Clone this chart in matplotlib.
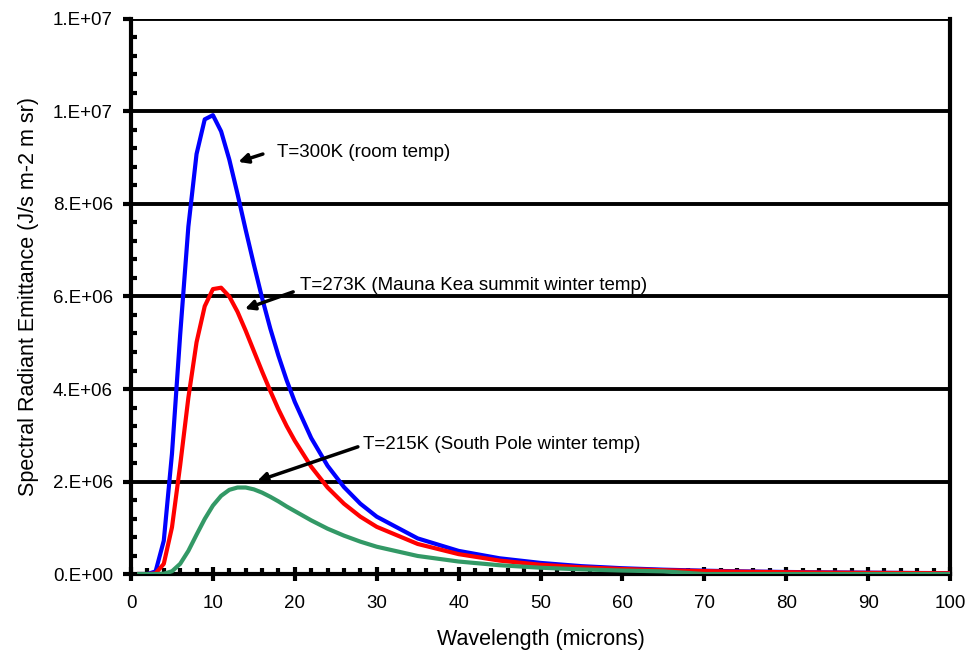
import numpy as np
import matplotlib.pyplot as plt
from matplotlib.ticker import MultipleLocator, FuncFormatter

plt.rcParams['font.family'] = ['Liberation Sans', 'DejaVu Sans']

# wavelength in microns
wavelength = [1, 2, 3, 4, 5, 6, 7, 8, 9, 10, 11, 12, 13, 14, 15, 16, 17, 18, 19, 20,
              22, 24, 26, 28, 30, 35, 40, 45, 50, 55, 60, 65, 70, 75, 80, 85, 90, 95, 100]

# spectral radiant emittance (J/s m-2 m sr)
t300 = [0, 0, 5.6e4, 7.2e5, 2.60e6, 5.17e6, 7.51e6, 9.08e6, 9.83e6, 9.92e6,
        9.57e6, 8.96e6, 8.22e6, 7.44e6, 6.69e6, 5.97e6, 5.31e6, 4.72e6, 4.19e6, 3.72e6,
        2.94e6, 2.34e6, 1.88e6, 1.52e6, 1.24e6, 7.7e5, 5.0e5, 3.4e5, 2.4e5, 1.7e5,
        1.25e5, 9.4e4, 7.2e4, 5.6e4, 4.4e4, 3.5e4, 2.9e4, 2.3e4, 1.9e4]
t273 = [0, 0, 1.2e4, 2.2e5, 1.01e6, 2.35e6, 3.81e6, 5.01e6, 5.79e6, 6.16e6,
        6.19e6, 6.00e6, 5.67e6, 5.26e6, 4.82e6, 4.38e6, 3.96e6, 3.56e6, 3.20e6, 2.88e6,
        2.32e6, 1.87e6, 1.52e6, 1.24e6, 1.02e6, 6.5e5, 4.3e5, 2.9e5, 2.0e5, 1.45e5,
        1.09e5, 8.2e4, 6.3e4, 5.0e4, 3.9e4, 3.1e4, 2.5e4, 2.1e4, 1.7e4]
t215 = [0, 0, 0, 6e3, 5.9e4, 2.2e5, 5.0e5, 8.5e5, 1.19e6, 1.48e6,
        1.69e6, 1.82e6, 1.87e6, 1.87e6, 1.83e6, 1.76e6, 1.67e6, 1.57e6, 1.46e6, 1.36e6,
        1.16e6, 9.8e5, 8.3e5, 7.0e5, 5.9e5, 3.9e5, 2.7e5, 1.9e5, 1.36e5, 1.0e5,
        7.5e4, 5.7e4, 0, 0, 0, 0, 0, 0, 0]

fig = plt.figure(figsize=(9.8, 6.5), dpi=100)
ax = fig.add_axes([0.1337, 0.1169, 0.8357, 0.8539])

# horizontal grid lines
for yv in np.arange(2e6, 1.21e7, 2e6):
    ax.axhline(yv, color='black', lw=2.8, zorder=1)

ax.plot(wavelength, t300, color='#0000FF', lw=3, zorder=3)
ax.plot(wavelength, t273, color='#FF0000', lw=3, zorder=3)
ax.plot(wavelength, t215, color='#339966', lw=3, zorder=4)

ax.set_xlim(0, 100)
ax.set_ylim(0, 1.2e7)

ax.xaxis.set_major_locator(MultipleLocator(10))
ax.xaxis.set_minor_locator(MultipleLocator(2))
ax.yaxis.set_major_locator(MultipleLocator(2e6))
ax.yaxis.set_minor_locator(MultipleLocator(4e5))


def excel_fmt(v, pos):
    m, e = f"{v:.0E}".split('E')
    return f"{m}.E{e}"


ax.yaxis.set_major_formatter(FuncFormatter(excel_fmt))

ax.tick_params(axis='x', which='major', direction='inout', length=10, width=3, labelsize=13.5, pad=10)
ax.tick_params(axis='x', which='minor', direction='in', length=4, width=3)
ax.tick_params(axis='y', which='major', direction='out', length=6, width=3, labelsize=13.5, pad=7)
ax.tick_params(axis='y', which='minor', direction='in', length=4, width=3)

for s in ['left', 'bottom', 'right']:
    ax.spines[s].set_linewidth(3)
    ax.spines[s].set_zorder(2)
ax.spines['top'].set_visible(False)

ax.set_xlabel('Wavelength (microns)', fontsize=15.5, labelpad=12)
ax.set_ylabel('Spectral Radiant Emittance (J/s m-2 m sr)', fontsize=15.5, labelpad=10)

arrow = dict(arrowstyle='-|>', lw=2.5, color='black', mutation_scale=14, shrinkA=0, shrinkB=0)
ax.annotate('', xy=(13.1, 8.91e6), xytext=(16.1, 9.08e6), arrowprops=arrow, zorder=5)
ax.text(17.8, 9.12e6, 'T=300K (room temp)', fontsize=13.5, va='center')
ax.annotate('', xy=(13.9, 5.73e6), xytext=(19.8, 6.10e6), arrowprops=arrow, zorder=5)
ax.text(20.6, 6.23e6, 'T=273K (Mauna Kea summit winter temp)', fontsize=13.5, va='center')
ax.annotate('', xy=(15.4, 2.01e6), xytext=(27.7, 2.75e6), arrowprops=arrow, zorder=5)
ax.text(28.3, 2.79e6, 'T=215K (South Pole winter temp)', fontsize=13.5, va='center')

fig.savefig('out.png', dpi=100)
